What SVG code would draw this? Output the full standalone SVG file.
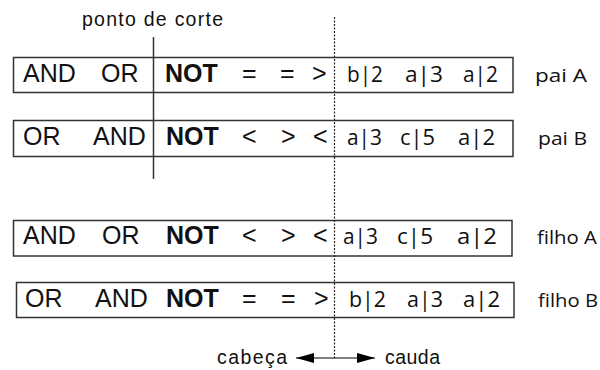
<svg xmlns="http://www.w3.org/2000/svg" width="600" height="370" viewBox="0 0 600 370">
<style>
.box{fill:#fff;stroke:#333;stroke-width:1.5}
.a{font-family:"Liberation Sans",Arial,sans-serif;font-size:25px;fill:#111}
.b{font-weight:bold}
.c{font-family:"Open Sans","Liberation Sans",sans-serif;font-size:22px;fill:#111}
.l{font-family:"Open Sans","Liberation Sans",sans-serif;font-size:18px;fill:#111}
.t{font-family:"Liberation Sans",Arial,sans-serif;font-size:19.5px;fill:#111}
</style>
<defs>
<marker id="ah" viewBox="0 0 18 10" refX="18" refY="5" markerWidth="18" markerHeight="10" markerUnits="userSpaceOnUse" orient="auto">
<path d="M0,0 L18,5 L0,10 Z" fill="#000"/>
</marker>
</defs>
<text class="t" x="82" y="26" textLength="141">ponto de corte</text>
<g id="paiA">
<rect class="box" x="13.5" y="57.5" width="499.5" height="35"/>
<text class="a" x="23" y="82">AND</text>
<text class="a" x="101" y="82">OR</text>
<text class="a b" x="165" y="82">NOT</text>
<text class="a" x="242" y="82">=</text>
<text class="a" x="280" y="82">=</text>
<text class="a" x="312" y="82">&gt;</text>
<text class="c" x="347" y="82" textLength="36" lengthAdjust="spacingAndGlyphs">b|2</text>
<text class="c" x="405" y="82" textLength="38" lengthAdjust="spacingAndGlyphs">a|3</text>
<text class="c" x="463" y="82" textLength="35" lengthAdjust="spacingAndGlyphs">a|2</text>
<text class="l" x="535" y="82" textLength="52" lengthAdjust="spacingAndGlyphs">pai A</text>
</g>
<g id="paiB">
<rect class="box" x="13.5" y="120.5" width="499.5" height="36"/>
<text class="a" x="23" y="145">OR</text>
<text class="a" x="93" y="145">AND</text>
<text class="a b" x="166" y="145">NOT</text>
<text class="a" x="242" y="145">&lt;</text>
<text class="a" x="281" y="145">&gt;</text>
<text class="a" x="313" y="145">&lt;</text>
<text class="c" x="347" y="145" textLength="35" lengthAdjust="spacingAndGlyphs">a|3</text>
<text class="c" x="400" y="145" textLength="35" lengthAdjust="spacingAndGlyphs">c|5</text>
<text class="c" x="458" y="145" textLength="37" lengthAdjust="spacingAndGlyphs">a|2</text>
<text class="l" x="538" y="145" textLength="49" lengthAdjust="spacingAndGlyphs">pai B</text>
</g>
<g id="filhoA">
<rect class="box" x="13.5" y="220.5" width="498.5" height="35.5"/>
<text class="a" x="23" y="244">AND</text>
<text class="a" x="102" y="244">OR</text>
<text class="a b" x="166" y="244">NOT</text>
<text class="a" x="242" y="244">&lt;</text>
<text class="a" x="281" y="244">&gt;</text>
<text class="a" x="313" y="244">&lt;</text>
<text class="c" x="343" y="244" textLength="35" lengthAdjust="spacingAndGlyphs">a|3</text>
<text class="c" x="397" y="244" textLength="36" lengthAdjust="spacingAndGlyphs">c|5</text>
<text class="c" x="457" y="244" textLength="40" lengthAdjust="spacingAndGlyphs">a|2</text>
<text class="l" x="537" y="244" textLength="60" lengthAdjust="spacingAndGlyphs">filho A</text>
</g>
<g id="filhoB">
<rect class="box" x="16.5" y="282.5" width="497.5" height="35"/>
<text class="a" x="25" y="307">OR</text>
<text class="a" x="95" y="307">AND</text>
<text class="a b" x="166" y="307">NOT</text>
<text class="a" x="242" y="307">=</text>
<text class="a" x="281" y="307">=</text>
<text class="a" x="314" y="307">&gt;</text>
<text class="c" x="349" y="307" textLength="37" lengthAdjust="spacingAndGlyphs">b|2</text>
<text class="c" x="407" y="307" textLength="36" lengthAdjust="spacingAndGlyphs">a|3</text>
<text class="c" x="463" y="307" textLength="37" lengthAdjust="spacingAndGlyphs">a|2</text>
<text class="l" x="538" y="307" textLength="60" lengthAdjust="spacingAndGlyphs">filho B</text>
</g>
<g id="connectors">
<line x1="153.5" y1="37" x2="153.5" y2="179" stroke="#333" stroke-width="1.5"/>
<line x1="334.5" y1="17" x2="334.5" y2="358" stroke="#222" stroke-width="1.2" stroke-dasharray="2,1.5"/>
<line x1="334" y1="358" x2="296" y2="358" stroke="#000" stroke-width="1.2" marker-end="url(#ah)"/>
<line x1="334" y1="358" x2="375" y2="358" stroke="#000" stroke-width="1.2" marker-end="url(#ah)"/>
</g>
<text class="t" x="217" y="364" textLength="70" font-size="20">cabeça</text>
<text class="t" x="385" y="364" textLength="55" font-size="20">cauda</text>
</svg>
